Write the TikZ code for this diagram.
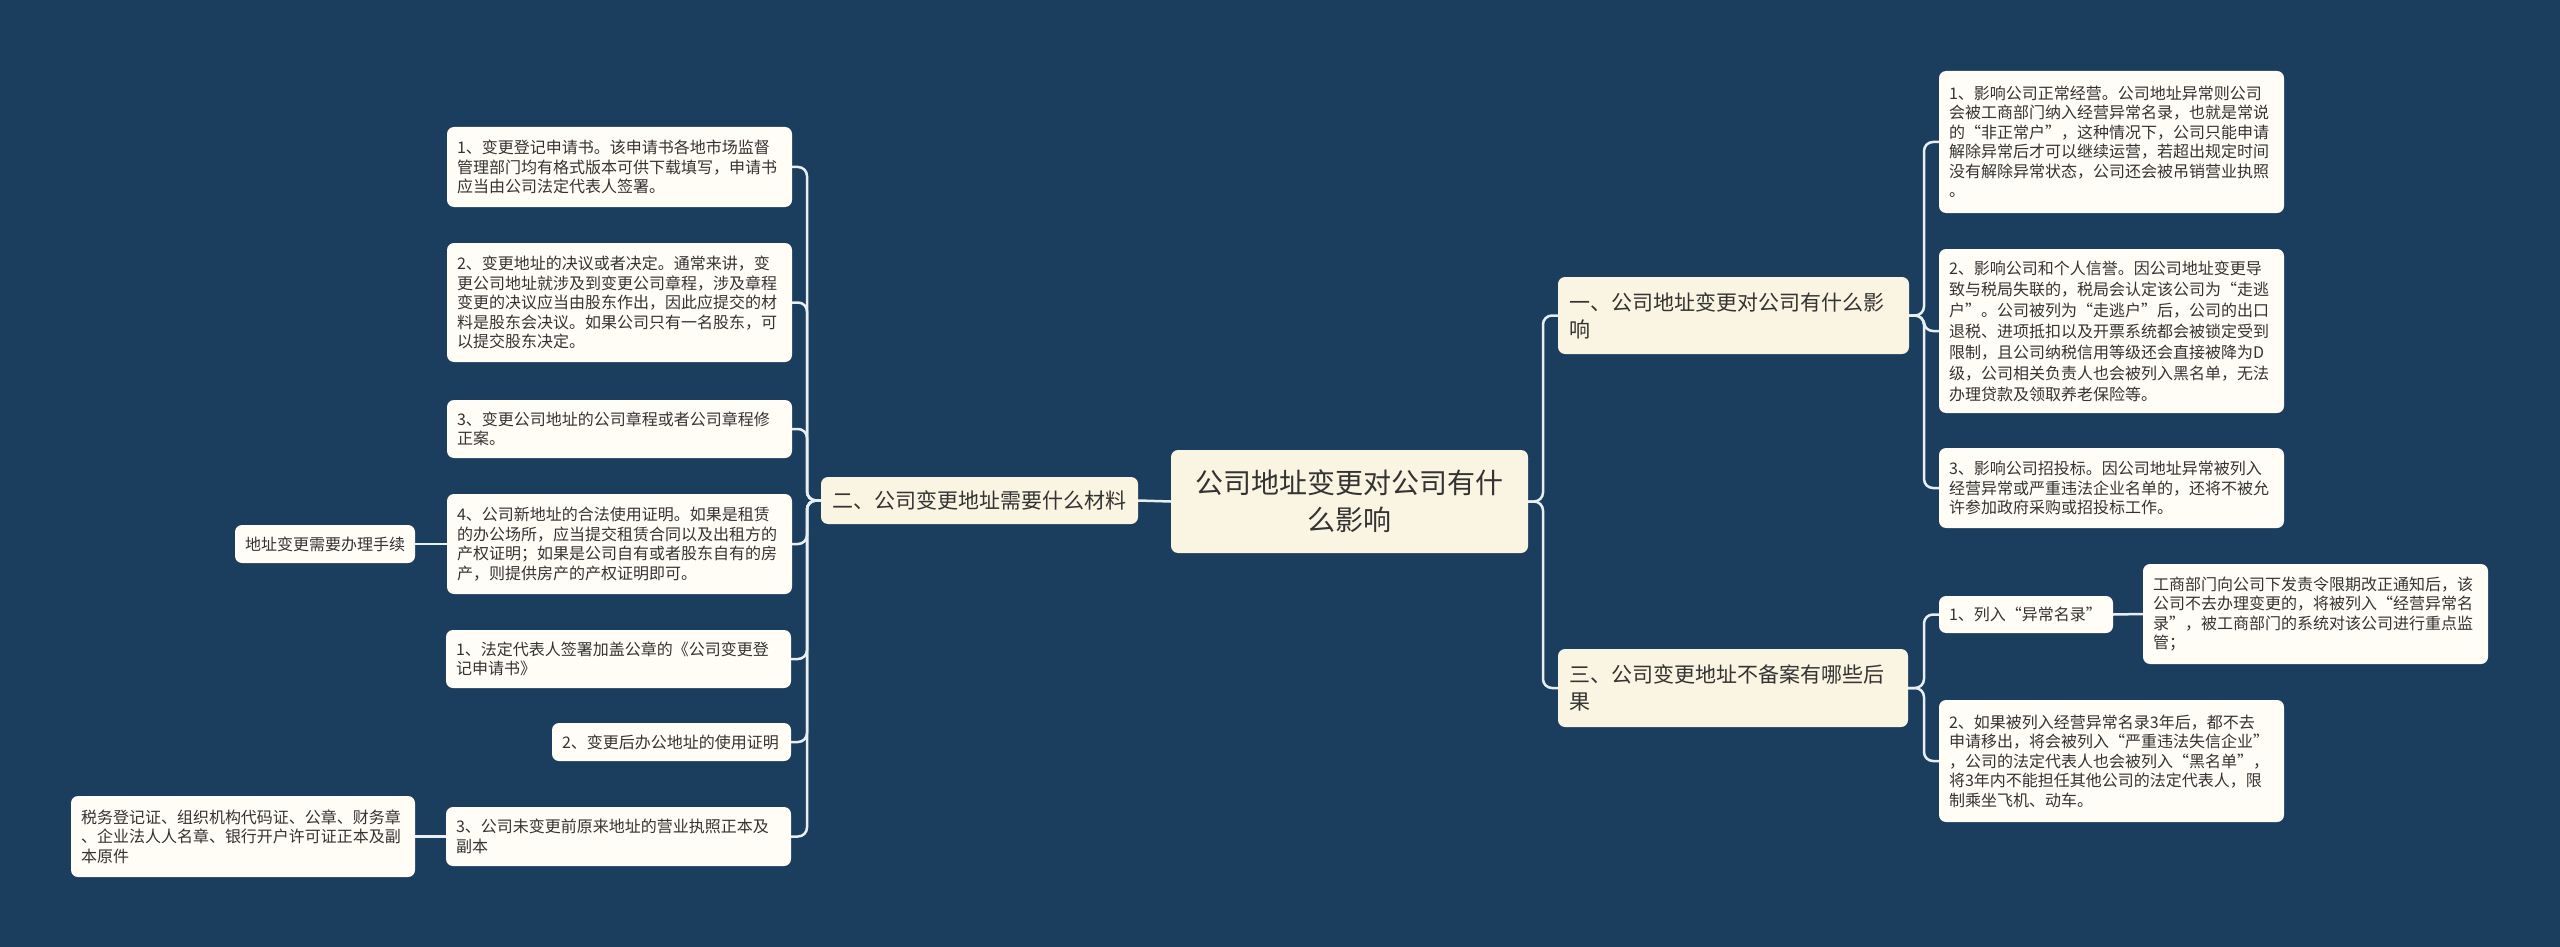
\documentclass[tikz,border=0pt]{standalone}
\usepackage{fontspec}
\setmainfont{Noto Sans CJK SC}
\definecolor{bgc}{HTML}{1B3E5E}
\definecolor{leafc}{HTML}{FFFDF6}
\definecolor{mainc}{HTML}{FAF4E2}
\definecolor{txtc}{HTML}{333333}
\definecolor{linec}{HTML}{E9EEF2}
\begin{document}
\begin{tikzpicture}[x=1pt,y=-1pt,
  box/.style={rounded corners=7pt, text=txtc, inner ysep=0pt, anchor=center},
  leaf/.style={box, fill=leafc, font=\fontsize{16pt}{19.5pt}\selectfont, align=left, inner xsep=10pt},
  topic/.style={box, fill=mainc, font=\fontsize{21pt}{27pt}\selectfont, align=left, inner xsep=11pt},
  rootbox/.style={box, fill=mainc, font=\fontsize{28pt}{37pt}\selectfont, align=center, inner xsep=10pt},
  conn/.style={draw=linec, line width=2.5pt, rounded corners=9pt}]
\useasboundingbox[fill=bgc] (0,0) rectangle (2560,947);

% root and topics
\node[rootbox, text width=337pt, minimum height=103pt] (root) at (1349.5,501.5) {公司地址变更对公司有什\\么影响};
\node[topic, text width=329pt, minimum height=77pt] (n1) at (1733.5,315.5) {一、公司地址变更对公司有什么影\\响};
\node[topic, text width=328pt, minimum height=78pt] (n3) at (1733,688) {三、公司变更地址不备案有哪些后\\果};
\node[topic, text width=295pt, minimum height=47pt] (n2) at (979.5,500.5) {二、公司变更地址需要什么材料};

% right leaves
\node[leaf, text width=325pt, minimum height=142pt] (r1) at (2111.5,142) {1、影响公司正常经营。公司地址异常则公司\\会被工商部门纳入经营异常名录，也就是常说\\的“非正常户”，这种情况下，公司只能申请\\解除异常后才可以继续运营，若超出规定时间\\没有解除异常状态，公司还会被吊销营业执照\\。};
\node[leaf, font=\fontsize{16pt}{21pt}\selectfont, text width=325pt, minimum height=164pt] (r2) at (2111.5,331) {2、影响公司和个人信誉。因公司地址变更导\\致与税局失联的，税局会认定该公司为“走逃\\户”。公司被列为“走逃户”后，公司的出口\\退税、进项抵扣以及开票系统都会被锁定受到\\限制，且公司纳税信用等级还会直接被降为D\\级，公司相关负责人也会被列入黑名单，无法\\办理贷款及领取养老保险等。};
\node[leaf, text width=325pt, minimum height=80pt] (r3) at (2111.5,488) {3、影响公司招投标。因公司地址异常被列入\\经营异常或严重违法企业名单的，还将不被允\\许参加政府采购或招投标工作。};
\node[leaf, text width=154pt, minimum height=37pt] (c1) at (2026,614.5) {1、列入“异常名录”};
\node[leaf, text width=325pt, minimum height=100pt] (c1a) at (2315.5,614) {工商部门向公司下发责令限期改正通知后，该\\公司不去办理变更的，将被列入“经营异常名\\录”，被工商部门的系统对该公司进行重点监\\管；};
\node[leaf, text width=325pt, minimum height=122pt] (c2) at (2111.5,761) {2、如果被列入经营异常名录3年后，都不去\\申请移出，将会被列入“严重违法失信企业”\\，公司的法定代表人也会被列入“黑名单”，\\将3年内不能担任其他公司的法定代表人，限\\制乘坐飞机、动车。};

% left leaves
\node[leaf, text width=325pt, minimum height=80pt] (l1) at (619.5,167) {1、变更登记申请书。该申请书各地市场监督\\管理部门均有格式版本可供下载填写，申请书\\应当由公司法定代表人签署。};
\node[leaf, text width=325pt, minimum height=119pt] (l2) at (619.5,302.5) {2、变更地址的决议或者决定。通常来讲，变\\更公司地址就涉及到变更公司章程，涉及章程\\变更的决议应当由股东作出，因此应提交的材\\料是股东会决议。如果公司只有一名股东，可\\以提交股东决定。};
\node[leaf, text width=325pt, minimum height=58pt] (l3) at (619.5,429) {3、变更公司地址的公司章程或者公司章程修\\正案。};
\node[leaf, text width=325pt, minimum height=100pt] (l4) at (619.5,544) {4、公司新地址的合法使用证明。如果是租赁\\的办公场所，应当提交租赁合同以及出租方的\\产权证明；如果是公司自有或者股东自有的房\\产，则提供房产的产权证明即可。};
\node[leaf, text width=325pt, minimum height=58pt] (l5) at (618.5,659) {1、法定代表人签署加盖公章的《公司变更登\\记申请书》};
\node[leaf, text width=219pt, minimum height=38pt] (l6) at (671.5,742) {2、变更后办公地址的使用证明};
\node[leaf, text width=325pt, minimum height=59pt] (l7) at (618.5,836.5) {3、公司未变更前原来地址的营业执照正本及\\副本};
\node[leaf, text width=160pt, minimum height=38pt] (ll1) at (325,544) {地址变更需要办理手续};
\node[leaf, text width=324pt, minimum height=81pt] (ll2) at (243,836.5) {税务登记证、组织机构代码证、公章、财务章\\、企业法人人名章、银行开户许可证正本及副\\本原件};

% trunk points
\coordinate (tR) at (1543,501.5);
\coordinate (t1) at (1924,315.5);
\coordinate (t3) at (1924,688);
\coordinate (tL) at (807,500.5);

\draw[conn] (root.east) -- (tR) |- (n1.west);
\draw[conn] (root.east) -- (tR) |- (n3.west);
\draw[conn] (root.west) -- (n2.east);
\foreach \c in {r1,r2,r3} \draw[conn] (n1.east) -- (t1) |- (\c.west);
\foreach \c in {c1,c2} \draw[conn] (n3.east) -- (t3) |- (\c.west);
\draw[conn] (c1.east) -- (c1a.west);
\foreach \c in {l1,l2,l3,l4,l5,l6,l7} \draw[conn] (n2.west) -- (tL) |- (\c.east);
\draw[conn] (l4.west) -- (ll1.east);
\draw[conn] (l7.west) -- (ll2.east);
\end{tikzpicture}
\end{document}
